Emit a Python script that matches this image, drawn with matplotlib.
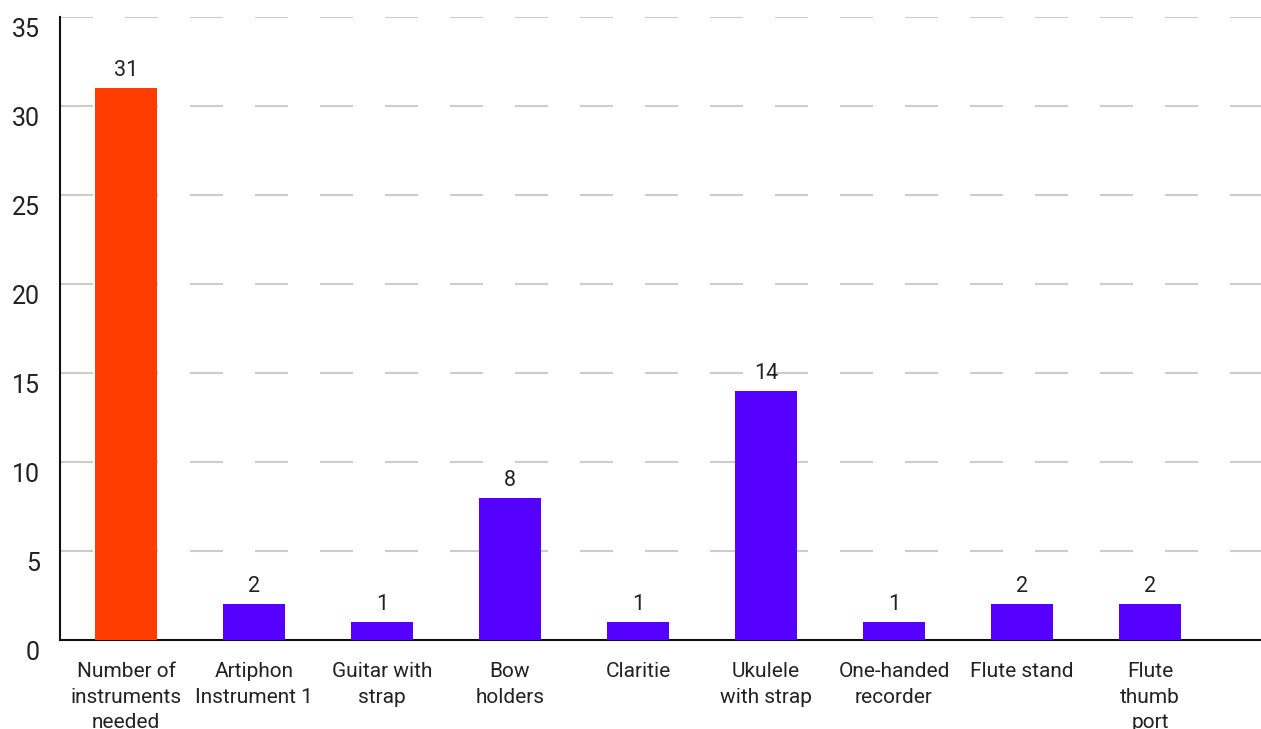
import numpy as np
import matplotlib
matplotlib.use("Agg")
import matplotlib.pyplot as plt

plt.rcParams["font.family"] = ["Roboto", "DejaVu Sans"]

categories = ["Number of\ninstruments\nneeded", "Artiphon\nInstrument 1", "Guitar with\nstrap",
              "Bow\nholders", "Claritie", "Ukulele\nwith strap", "One-handed\nrecorder",
              "Flute stand", "Flute\nthumb\nport"]
counts = [31, 2, 1, 8, 1, 14, 1, 2, 2]
yticks = [0, 5, 10, 15, 20, 25, 30, 35]

orange = "#ff3d00"
purple = "#5500ff"
text_color = "#222222"

fig = plt.figure(figsize=(12.61, 7.29), dpi=100)
ax = fig.add_axes([60 / 1261, 1 - 640 / 729, 1 - 60 / 1261, (640 - 17) / 729])

x = np.arange(len(categories))
colors = [orange] + [purple] * (len(categories) - 1)
bars = ax.bar(x, counts, width=0.49, color=colors, zorder=3)

for xi, v in zip(x, counts):
    ax.annotate(str(v), xy=(xi, v), xytext=(0, 7), textcoords="offset pixels",
                ha="center", va="bottom", fontsize=15.5, color=text_color, zorder=4)

ax.set_xlim(-0.516, 8.867)
ax.set_ylim(0, 35)

# dashed horizontal grid
lw = 1.5
for t in yticks[1:]:
    ax.axhline(t, color="#cccccc", lw=lw, linestyle=(0, (23.8 / lw, 23.0 / lw)), zorder=1)

ax.set_xticks([])
ax.set_yticks([])
for s in ["top", "right"]:
    ax.spines[s].set_visible(False)
for s in ["left", "bottom"]:
    ax.spines[s].set_color("#111111")
    ax.spines[s].set_linewidth(1.5)

# y labels sit a little below their gridlines
for t in yticks:
    ax.annotate(str(t), xy=(0, t), xycoords=("axes fraction", "data"),
                xytext=(-20, -13), textcoords="offset pixels",
                ha="right", va="center", fontsize=18, color=text_color)

for xi, lab in zip(x, categories):
    ax.annotate(lab, xy=(xi, 0), xycoords=("data", "axes fraction"),
                xytext=(0, -22), textcoords="offset pixels",
                ha="center", va="top", fontsize=15, linespacing=1.45,
                color=text_color, annotation_clip=False)

fig.savefig("out.png", dpi=100)
